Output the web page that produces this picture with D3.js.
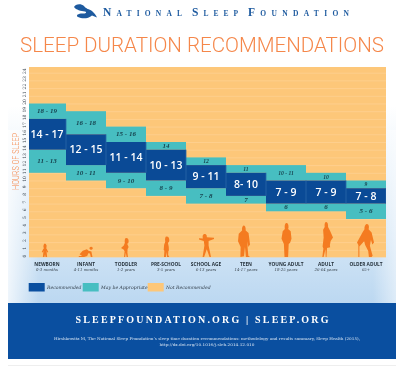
<!DOCTYPE html>
<html><head><meta charset="utf-8">
<script src="https://cdnjs.cloudflare.com/ajax/libs/d3/7.8.5/d3.min.js"></script>
<style>html,body{margin:0;padding:0;background:#fff}svg{display:block;filter:blur(0.3px)}</style></head>
<body><script>
const categories=["NEWBORN","INFANT","TODDLER","PRE-SCHOOL","SCHOOL AGE","TEEN","YOUNG ADULT","ADULT","OLDER ADULT"];
const ages=["0-3 months","4-11 months","1-2 years","3-5 years","6-13 years","14-17 years","18-25 years","26-64 years","65+"];
const recommended=[[14,17],[12,15],[11,14],[10,13],[9,11],[8,10],[7,9],[7,9],[7,8]];
const upperAppropriate=[[18,19],[16,18],[15,16],[14,14],[12,12],[11,11],[10,11],[10,10],[9,9]];
const lowerAppropriate=[[11,13],[10,11],[9,10],[8,9],[7,8],[7,7],[6,6],[6,6],[5,6]];
const recLabels=["14 - 17","12 - 15","11 - 14","10 - 13","9 - 11","8- 10","7 - 9","7 - 9","7 - 8"];
const hours=d3.range(0,25);
const legendItems=["Recommended","May be Appropriate","Not Recommended"];
const citation=["Hirshkowitz M, The National Sleep Foundation’s sleep time duration recommendations: methodology and results summary, Sleep Health (2015),","http://dx.doi.org/10.1016/j.sleh.2014.12.010"];
const citationWidths=[306,95];
const headerWords=[["N","ATIONAL",103,79],["S","LEEP",192,46],["F","OUNDATION",248,101]];
// silhouette outlines in a unit box (x -50..50, y 0..100, feet at 100)
const figures=[
 "M-20,0A20,20 0 1 1 20,22A20,20 0 1 1 -20,0M-22,30L22,30L46,58L34,62L22,50L26,72L30,100L8,100L0,78L-8,100L-30,100L-26,72L-22,50L-34,62L-46,58Z",
 "M28,2A12,16 0 1 1 28,3M10,14L22,30L42,40L50,100L38,100L32,62L20,58L12,88L-10,100L-50,100L-46,90L-24,88L-42,70L-20,30Z",
 "M0,0C24,0 28,10 26,20C24,28 18,30 12,30L26,48L16,58L14,76L20,100L6,100L-2,78L-8,100L-20,100L-14,70L-24,60L-50,52L-22,40L-12,26C-16,10 -8,0 0,0Z",
 "M0,0C30,0 40,8 40,18C40,26 30,30 20,30L32,50L34,68L26,72L24,90L40,100L8,100L0,76L-8,100L-36,100L-30,70L-40,66L-34,40L-18,26C-24,10 -18,0 0,0Z",
 "M-14,0C-2,-2 4,6 2,14L50,16L50,22L14,30L14,50L30,100L20,100L2,66L-16,100L-26,100L-14,50L-18,30L-50,24L-50,18L-24,20C-28,10 -26,2 -14,0Z",
 "M-4,0C8,-2 16,6 14,16L38,24L50,60L36,68L30,50L30,70L36,96L50,100L16,100L8,68L0,98L-30,100L-28,68L-50,50L-44,26L-16,16C-18,8 -14,2 -4,0Z",
 "M0,0C14,0 22,6 20,14L16,18L42,24L50,46L36,58L22,62L16,100L-20,100L-26,62L-50,46L-38,24L-16,18C-22,8 -14,0 0,0Z",
 "M-6,0C8,-2 14,6 12,14L28,26L50,44L32,54L26,66L28,72L4,74L0,100L-6,100L-8,78L-22,100L-32,100L-24,76L-30,70L-22,44L-26,22L-14,14C-16,6 -14,2 -6,0Z",
 "M6,0C18,-2 24,8 18,16L36,26L50,56L40,62L32,48L26,66L30,74L42,96L36,100L20,100L16,82L-2,64L-8,52L-36,68L-36,100L-42,100L-42,64L-50,56L-18,26L-6,16C-8,8 -2,2 6,0Z"
];
const figBoxes=[[45,245,7,12],[85.5,248,14,9],[126,238,10,19],[166.5,236.5,7,20.5],[206.5,234,15,23],[244,225.5,12,31.5],[286.5,223,10,34],[326.5,222,13,35],[365.5,224,17,33]];

const W=399,H=366;
const svg=d3.select("body").append("svg").attr("width",W).attr("height",H);
const defs=svg.append("defs");
const g=defs.append("linearGradient").attr("id","bg").attr("x1",0).attr("x2",0).attr("y1",0).attr("y2",1);
g.append("stop").attr("offset",0.35).attr("stop-color","#ffffff");
g.append("stop").attr("offset",1).attr("stop-color","#bcd8f1");
const gl=defs.append("linearGradient").attr("id","fade").attr("x1",0).attr("x2",1).attr("y1",0).attr("y2",0);
gl.append("stop").attr("offset",0).attr("stop-color","#fff").attr("stop-opacity",0.75);
gl.append("stop").attr("offset",0.08).attr("stop-color","#fff").attr("stop-opacity",0);
gl.append("stop").attr("offset",0.94).attr("stop-color","#fff").attr("stop-opacity",0);
gl.append("stop").attr("offset",1).attr("stop-color","#fff").attr("stop-opacity",0.5);
svg.append("rect").attr("width",W).attr("height",H).attr("fill","#fff");
svg.append("rect").attr("x",8).attr("y",0).attr("width",388).attr("height",303).attr("fill","url(#bg)");
svg.append("rect").attr("x",8).attr("y",130).attr("width",388).attr("height",173).attr("fill","url(#fade)");
svg.append("line").attr("x1",8).attr("x2",396).attr("y1",365.5).attr("y2",365.5).attr("stroke","#eeeeee");

// header logo
const logo=svg.append("g").attr("fill","#1d5a9f");
logo.append("path").attr("d","M74,7C75,4 81,3 84,6C86,9 89,9 92,11C94,13 96,15 97,17.5L92,15.5C88,19 82,19 78,17C75,15 79,13 84,13.5C86,13.5 87,12 85,11.5C81,11 76,10 74,7Z");
headerWords.forEach(([cap,rest,xp,w])=>{
 const t=svg.append("text").attr("x",xp).attr("y",15.5).attr("textLength",w).attr("fill","#1d5a9f").attr("font-family","'Liberation Serif',serif").attr("font-weight",700);
 t.append("tspan").attr("font-size",11.5).text(cap);
 t.append("tspan").attr("font-size",7.5).text(rest);
});

svg.append("text").attr("x",20).attr("y",52).attr("textLength",364).attr("lengthAdjust","spacingAndGlyphs")
 .attr("font-family","Roboto,'Open Sans',sans-serif").attr("font-weight",300).attr("font-size",20).attr("fill","#f5874a").text("SLEEP DURATION RECOMMENDATIONS");

// scales
const x=d3.scaleBand().domain(categories).range([26,386]);
const y=d3.scaleLinear().domain([0,24]).range([257.5,72.7]);
const plotL=29,plotR=386,plotT=67,plotB=257.5;
defs.append("clipPath").attr("id","plot").append("rect").attr("x",plotL).attr("y",plotT).attr("width",plotR-plotL).attr("height",plotB-plotT);

const plot=svg.append("g").attr("clip-path","url(#plot)");
plot.append("rect").attr("x",plotL).attr("y",plotT).attr("width",plotR-plotL).attr("height",plotB-plotT).attr("fill","#fdc779");
plot.selectAll("line.g").data(hours).join("line").attr("class","g")
 .attr("x1",plotL).attr("x2",plotR).attr("y1",d=>y(d)+.5).attr("y2",d=>y(d)+.5).attr("stroke","#fed192").attr("stroke-width",.8);

function bands(data,fill){
 plot.selectAll(null).data(data).join("rect")
  .attr("x",(d,i)=>x(categories[i])).attr("width",x.bandwidth())
  .attr("y",d=>y(d[1]+1)).attr("height",d=>y(d[0])-y(d[1]+1)).attr("fill",fill);
}
bands(upperAppropriate,"#47bec1");
bands(lowerAppropriate,"#47bec1");
bands(recommended,"#0a4a96");
plot.selectAll(null).data(recommended).join("rect")
  .attr("x",(d,i)=>x(categories[i])+x.bandwidth()-.4).attr("width",.8)
  .attr("y",d=>y(d[1]+1)).attr("height",d=>y(d[0])-y(d[1]+1)).attr("fill","#2a66a8");

const cx=i=>x(categories[i])+x.bandwidth()/2+(i==0?1:0);
svg.selectAll("text.rec").data(recLabels).join("text").attr("class","rec")
 .attr("x",(d,i)=>cx(i)).attr("y",(d,i)=>(y(recommended[i][0])+y(recommended[i][1]+1))/2+3.7)
 .attr("text-anchor","middle").attr("fill","#fff").attr("font-family","'Open Sans',sans-serif").attr("font-weight",600).attr("font-size",10.5).text(d=>d);
function rangeLabel(data,small){
 svg.selectAll(null).data(data).join("text")
 .attr("x",(d,i)=>cx(i)).attr("y",d=>(y(d[0])+y(d[1]+1))/2+2)
 .attr("text-anchor","middle").attr("fill","#17434f").attr("font-family","'Liberation Serif',serif").attr("font-style","italic").attr("font-weight",700)
 .attr("font-size",(d,i)=>small&&i>=4?5.6:7).text(d=>d[0]==d[1]?d[0]:d[0]+" - "+d[1]);
}
rangeLabel(upperAppropriate,true);
rangeLabel(lowerAppropriate,false);

// y axis
const axis=svg.append("g").attr("font-family","'DejaVu Serif',serif").attr("font-size",4.5).attr("fill","#3a4650");
axis.selectAll("text").data(hours).join("text")
 .attr("transform",d=>`translate(25.7,${y(d)-1.5}) rotate(-90)`).attr("text-anchor","middle").text(d=>d);
svg.append("text").attr("transform",`translate(18.5,161.5) rotate(-90)`).attr("text-anchor","middle").attr("textLength",57).attr("lengthAdjust","spacingAndGlyphs")
 .attr("font-family","Roboto,sans-serif").attr("font-weight",300).attr("font-size",8.5).attr("fill","#f5874a").text("HOURS OF SLEEP");

// figures
svg.append("g").selectAll("path").data(figures).join("path").attr("d",d=>d).attr("fill","#f47b20")
 .attr("transform",(d,i)=>{const b=figBoxes[i];return `translate(${b[0]},${b[1]}) scale(${b[2]/100},${b[3]/100})`;});

// category labels
svg.selectAll("text.cat").data(categories).join("text").attr("class","cat")
 .attr("x",(d,i)=>cx(i)).attr("y",266).attr("text-anchor","middle").attr("font-family","'Open Sans',sans-serif").attr("font-weight",700).attr("font-size",4.8).attr("fill","#26323c").text(d=>d);
svg.selectAll("text.age").data(ages).join("text").attr("class","age")
 .attr("x",(d,i)=>cx(i)).attr("y",271).attr("text-anchor","middle").attr("font-family","'DejaVu Serif',serif").attr("font-style","italic").attr("font-size",3.9).attr("fill","#38434d").text(d=>d);

// legend
const legendColors=["#0a4fa0","#47bec1","#fdc779"];
const legendRange=d3.scaleOrdinal().domain(legendItems).range([28.7,82.7,147.7]);
const lg=svg.append("g").selectAll("g").data(legendItems).join("g").attr("transform",d=>`translate(${legendRange(d)},283)`);
lg.append("rect").attr("width",16).attr("height",8.5).attr("fill",(d,i)=>legendColors[i]);
lg.append("text").attr("x",18.3).attr("y",6).attr("font-family","'DejaVu Serif',serif").attr("font-style","italic").attr("font-size",4.6).attr("fill","#2e3a46").text(d=>d);

// footer
svg.append("rect").attr("x",8).attr("y",303).attr("width",388).attr("height",56).attr("fill","#0a4fa0");
svg.append("text").attr("x",202).attr("y",322.7).attr("text-anchor","middle").attr("textLength",253)
 .attr("font-family","'Liberation Serif',serif").attr("font-weight",700).attr("font-size",10).attr("fill","#fff").text("SLEEPFOUNDATION.ORG | SLEEP.ORG");
svg.selectAll("text.cit").data(citation).join("text").attr("class","cit")
 .attr("x",207).attr("y",(d,i)=>339.5+i*6).attr("text-anchor","middle").attr("textLength",(d,i)=>citationWidths[i]).attr("lengthAdjust","spacingAndGlyphs").attr("font-family","'DejaVu Serif',serif").attr("font-size",3.7).attr("fill","#dbe7f4").text(d=>d);
</script></body></html>
